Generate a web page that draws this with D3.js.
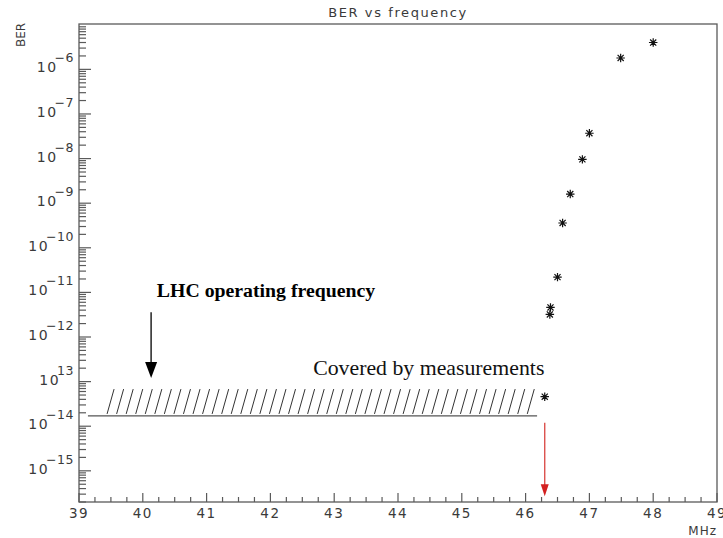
<!DOCTYPE html>
<html><head><meta charset="utf-8">
<script src="https://cdn.jsdelivr.net/npm/d3@7"></script>
<style>body{margin:0;background:#fff}</style>
</head><body><svg id="c" width="723" height="538"></svg>
<script>
// ---- data ----
const frequencies = [46.30, 46.38, 46.39, 46.50, 46.58, 46.70, 46.89, 47.00, 47.49, 48.00];
const berValues   = [4.6e-14, 3.2e-12, 4.6e-12, 2.2e-11, 3.6e-10, 1.6e-9, 9.6e-9, 3.7e-8, 1.8e-6, 4.0e-6];
const xTickValues = [39, 40, 41, 42, 43, 44, 45, 46, 47, 48, 49];
const xTickLabels = ["39", "40", "41", "42", "43", "44", "45", "46", "47", "48", "49"];
const yDecades = [-6, -7, -8, -9, -10, -11, -12, -13, -14, -15];
const yExponentLabels = ["\u22126", "\u22127", "\u22128", "\u22129", "\u221210", "\u221211", "\u221212", "13", "\u221214", "\u221215"];
const titleText = "BER vs frequency";
const yTitle = "BER";
const xUnit = "MHz";
const lhcLabel = "LHC operating frequency";
const coveredLabel = "Covered by measurements";
const lhcFreq = 40.13;
const coveredRange = [39.14, 46.18];
const hatchRange = [39.44, 46.15];
const coveredLevel = 1.7e-14;
const hatchTopLevel = 6.8e-14;
const lhcArrowBER = [3.6e-12, 1.2e-13];
const measArrowFreq = 46.3;
const measArrowBER = [1.2e-14, 2.7e-16];

// ---- layout ----
const svg = d3.select("#c");
const L = 79, R = 717, T = 24, B = 502;
const x = d3.scaleLinear().domain([39, 49]).range([L, R]);
const y = d3.scaleLog().domain([2.0e-16, 1.04e-5]).range([B, T]);
const axisColor = "#5a5a5a";
const textColor = "#3a3a3a";

// frame
svg.append("rect").attr("x", L).attr("y", T).attr("width", R - L).attr("height", B - T)
  .attr("fill", "none").attr("stroke", axisColor).attr("stroke-width", 1.3);

// x axis ticks
const xMinor = d3.range(39, 49.001, 0.25);
svg.append("g").selectAll("line").data(xMinor).join("line")
  .attr("x1", d => x(d)).attr("x2", d => x(d))
  .attr("y1", B).attr("y2", d => Math.abs(d - Math.round(d)) < 1e-6 ? B - 9 : B - 5)
  .attr("stroke", axisColor).attr("stroke-width", 1.2);
svg.append("g").selectAll("text").data(xTickValues).join("text")
  .attr("x", d => x(d)).attr("y", 518)
  .attr("text-anchor", "middle")
  .attr("font-family", "DejaVu Sans").attr("font-size", 13.5).attr("letter-spacing", 1.5)
  .attr("fill", textColor)
  .text((d, i) => xTickLabels[i]);
svg.append("text").attr("x", R).attr("y", 535).attr("text-anchor", "end")
  .attr("font-family", "DejaVu Sans").attr("font-size", 12).attr("letter-spacing", 1)
  .attr("fill", textColor).text(xUnit);

// y axis ticks
const yMinor = [];
for (let e = -16; e <= -6; e++) for (let m = 1; m <= 9; m++) {
  const v = m * Math.pow(10, e);
  if (v >= 2e-16 && v <= 1.04e-5) yMinor.push({v, major: m === 1});
}
svg.append("g").selectAll("line").data(yMinor).join("line")
  .attr("x1", L).attr("x2", d => d.major ? L + 12 : L + 7)
  .attr("y1", d => y(d.v)).attr("y2", d => y(d.v))
  .attr("stroke", axisColor).attr("stroke-width", 1.2);

const yl = svg.append("g");
yDecades.forEach((e, i) => {
  const yy = y(Math.pow(10, e));
  const ex = yl.append("text").attr("x", 74).attr("y", yy - 7).attr("text-anchor", "end")
    .attr("font-family", "DejaVu Sans").attr("font-size", 12.5).attr("letter-spacing", 0.5).attr("fill", textColor)
    .text(yExponentLabels[i]);
  const w = ex.node().getComputedTextLength();
  yl.append("text").attr("x", 74 - w + 3).attr("y", yy + 3).attr("text-anchor", "end")
    .attr("font-family", "DejaVu Sans").attr("font-size", 14).attr("letter-spacing", 1.5).attr("fill", textColor)
    .text("10");
});

// titles
svg.append("text").attr("x", (L + R) / 2).attr("y", 17).attr("text-anchor", "middle")
  .attr("font-family", "DejaVu Sans").attr("font-size", 13).attr("letter-spacing", 1.6)
  .attr("fill", textColor).text(titleText);
svg.append("text").attr("transform", "translate(25,35) rotate(-90)").attr("text-anchor", "middle")
  .attr("font-family", "DejaVu Sans").attr("font-size", 12).attr("fill", textColor).text(yTitle);

// covered band
svg.append("line").attr("x1", x(coveredRange[0])).attr("x2", x(coveredRange[1]))
  .attr("y1", y(coveredLevel)).attr("y2", y(coveredLevel))
  .attr("stroke", "#555").attr("stroke-width", 1.3);
const hatchStep = 9.55;
const hx = d3.range(x(hatchRange[0]), x(hatchRange[1]), hatchStep);
svg.append("g").selectAll("line").data(hx).join("line")
  .attr("x1", d => d).attr("y1", y(coveredLevel) - 2)
  .attr("x2", d => d + 7).attr("y2", y(hatchTopLevel))
  .attr("stroke", "#333").attr("stroke-width", 1);

svg.append("text").attr("x", x(40.22)).attr("y", y(7.8e-12))
  .attr("font-family", "Liberation Serif").attr("font-weight", "bold").attr("font-size", 19.8)
  .attr("fill", "#000").text(lhcLabel);
svg.append("text").attr("x", x(42.67)).attr("y", y(1.4e-13))
  .attr("font-family", "Liberation Serif").attr("font-size", 21.8)
  .attr("fill", "#111").text(coveredLabel);

// LHC arrow
const ax = x(lhcFreq), ay0 = y(lhcArrowBER[0]), ay1 = y(lhcArrowBER[1]);
svg.append("line").attr("x1", ax).attr("x2", ax).attr("y1", ay0).attr("y2", ay1 - 14)
  .attr("stroke", "#000").attr("stroke-width", 1.3);
svg.append("path").attr("d", `M${ax - 6},${ay1 - 16}L${ax + 6},${ay1 - 16}L${ax},${ay1}Z`).attr("fill", "#000");

// measurement (red) arrow
const rx = x(measArrowFreq), ry0 = y(measArrowBER[0]), ry1 = y(measArrowBER[1]);
svg.append("line").attr("x1", rx).attr("x2", rx).attr("y1", ry0).attr("y2", ry1 - 10)
  .attr("stroke", "#d9443f").attr("stroke-width", 1.3);
svg.append("path").attr("d", `M${rx - 4},${ry1 - 12}L${rx + 4},${ry1 - 12}L${rx},${ry1}Z`).attr("fill", "#d42020");

// markers (asterisk, ROOT style)
const star = {
  draw(ctx, size) {
    const r = Math.sqrt(size) / 2, d = r * 0.72;
    ctx.moveTo(-r, 0); ctx.lineTo(r, 0);
    ctx.moveTo(0, -r); ctx.lineTo(0, r);
    ctx.moveTo(-d, -d); ctx.lineTo(d, d);
    ctx.moveTo(-d, d); ctx.lineTo(d, -d);
  }
};
const pts = frequencies.map((f, i) => ({f, b: berValues[i]}));
svg.append("g").selectAll("path").data(pts).join("path")
  .attr("transform", d => `translate(${x(d.f)},${y(d.b)})`)
  .attr("d", d3.symbol().type(star).size(72))
  .attr("stroke", "#111").attr("stroke-width", 1.2).attr("fill", "none");
</script></body></html>
